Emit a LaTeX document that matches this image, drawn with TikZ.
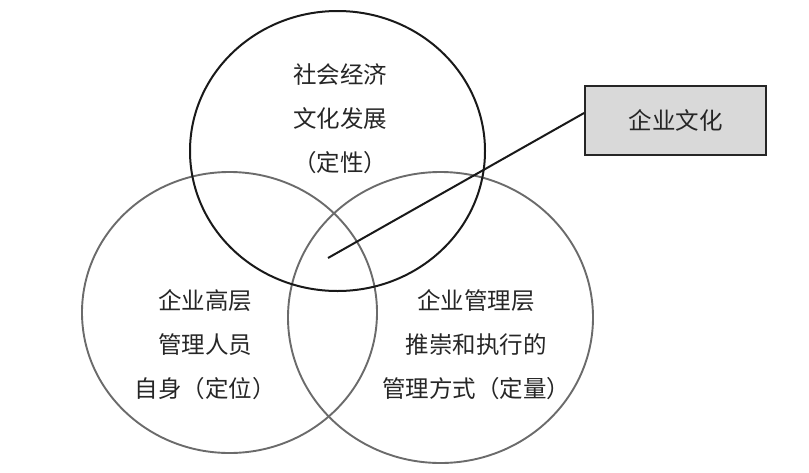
\documentclass[tikz,border=0pt]{standalone}
\usepackage{fontspec}
\setmainfont{Noto Sans CJK SC}
\begin{document}
\begin{tikzpicture}[x=1pt,y=-1pt,
  graycirc/.style={draw=black!58,line width=1.9pt},
  blackcirc/.style={draw=black!90,line width=2pt},
  lbl/.style={align=center,font=\fontsize{23.5}{44}\selectfont,text=black!85,inner sep=0pt},
  culturebox/.style={draw=black!85,line width=1.8pt,fill=black!15,minimum width=181pt,minimum height=69pt,font=\fontsize{23.5}{26}\selectfont,text=black!85}]
\useasboundingbox (0,0) rectangle (809,472);
\draw[graycirc] (229.5,312.5) ellipse [x radius=147.5, y radius=140.5];
\draw[graycirc] (440.5,317.5) ellipse [x radius=152.5, y radius=145.5];
\draw[blackcirc] (337.5,151) ellipse [x radius=147.5, y radius=140];
\node[lbl] (top) at (340,119) {社会经济\\文化发展\\（定性）};
\node[lbl] (left) at (205,345) {企业高层\\管理人员\\自身（定位）};
\node[lbl] (right) at (476,345) {企业管理层\\推崇和执行的\\管理方式（定量）};
\node[culturebox] (box) at (675.5,120.5) {企业文化};
\coordinate (pt) at (328,258);
\draw[line width=2pt,black!90] (box.west |- 0,113) -- (pt);
\end{tikzpicture}
\end{document}
